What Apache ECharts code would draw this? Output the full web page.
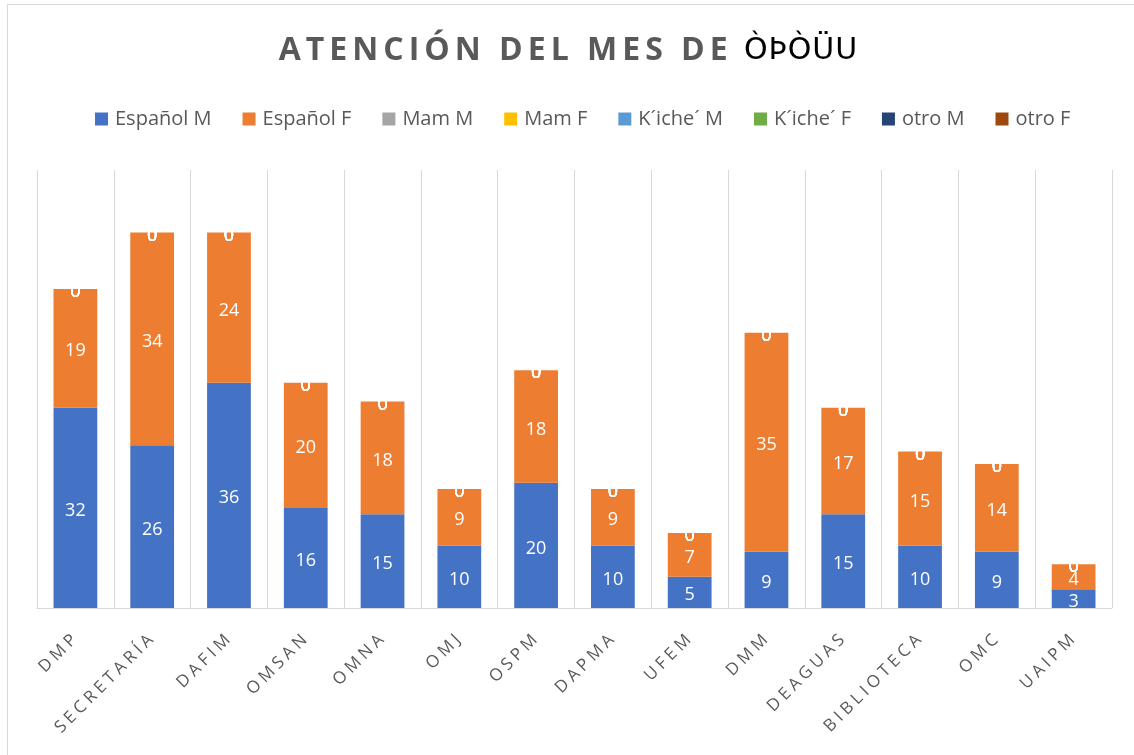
<!DOCTYPE html>
<html>
<head>
<meta charset="utf-8">
<script src="https://cdn.jsdelivr.net/npm/echarts@6/dist/echarts.min.js"></script>
<style>
html,body{margin:0;padding:0;background:#fff;}
#frame{position:absolute;left:7px;top:4px;width:1140px;height:760px;border:1px solid #d9d9d9;box-sizing:border-box;}
#chart{position:absolute;left:0;top:0;width:1134px;height:755px;}
</style>
</head>
<body>
<div id="frame"></div>
<div id="chart"></div>
<script>
const categories = ['DMP','SECRETARÍA','DAFIM','OMSAN','OMNA','OMJ','OSPM','DAPMA','UFEM','DMM','DEAGUAS','BIBLIOTECA','OMC','UAIPM'];
const seriesNames = ['Español M','Español F','Mam M','Mam F','K´iche´ M','K´iche´ F','otro M','otro F'];
const espanolM = [32,26,36,16,15,10,20,10,5,9,15,10,9,3];
const espanolF = [19,34,24,20,18,9,18,9,7,35,17,15,14,4];
const mamM    = [0,0,0,0,0,0,0,0,0,0,0,0,0,0];
const mamF    = [0,0,0,0,0,0,0,0,0,0,0,0,0,0];
const kicheM  = [0,0,0,0,0,0,0,0,0,0,0,0,0,0];
const kicheF  = [0,0,0,0,0,0,0,0,0,0,0,0,0,0];
const otroM   = [0,0,0,0,0,0,0,0,0,0,0,0,0,0];
const otroF   = [0,0,0,0,0,0,0,0,0,0,0,0,0,0];
const seriesData = [espanolM, espanolF, mamM, mamF, kicheM, kicheF, otroM, otroF];
const titleMain = 'ATENCIÓN DEL MES DE ';
const titleTail = 'ÒÞÒÜU';
const colors = ['#4472C4','#ED7D31','#A5A5A5','#FFC000','#5B9BD5','#70AD47','#264478','#9E480E'];
const FONT = '"Open Sans", "Noto Sans", sans-serif';

// letter-spaced rendering: each character as its own rich token with padding
function spaced(str, style) {
  return Array.from(str).map(c => '{' + style + '|' + c + '}').join('');
}

const chart = echarts.init(document.getElementById('chart'), null, {renderer:'canvas'});
chart.setOption({
  animation:false,
  color: colors,
  title: {
    text: spaced(titleMain, 'a') + spaced(titleTail, 'b'),
    left: 'center',
    top: 30,
    textStyle: {
      rich: {
        a: {fontFamily: FONT, fontWeight:'bold', fontSize: 32, color:'#595959', padding:[0,2.5]},
        b: {fontFamily: '"DejaVu Sans", sans-serif', fontWeight:'normal', fontSize: 30, color:'#000', padding:[0,0.5]}
      }
    }
  },
  legend: {
    top: 104,
    left: 90,
    itemWidth: 13,
    itemHeight: 13,
    itemGap: 31,
    icon: 'rect',
    textStyle: {fontFamily: FONT, fontSize: 20, color:'#595959', padding:[0,0,0,2]},
    data: seriesNames
  },
  grid: {left: 37, right: 22, top: 170, bottom: 147, containLabel:false},
  xAxis: {
    type:'category',
    data: categories,
    axisLine: {lineStyle:{color:'#d9d9d9', width:1}},
    axisTick: {show:false},
    splitLine: {show:true, lineStyle:{color:'#d9d9d9', width:1}},
    axisLabel: {
      rotate:45, interval:0, margin:28,
      formatter: v => spaced(v, 's'),
      rich: { s: {fontFamily: FONT, fontSize:17, color:'#595959', padding:[0,2]} }
    }
  },
  yAxis: {
    type:'value', min:0, max:70, show:false,
    splitLine:{show:false}
  },
  series: seriesNames.map((name, i) => ({
    name: name,
    type: 'bar',
    stack: 'total',
    barWidth: '57%',
    data: seriesData[i],
    itemStyle: {color: colors[i]},
    label: {
      show: true,
      position: 'inside',
      offset: [0, 3],
      color: '#fff',
      fontFamily: FONT,
      fontSize: 18
    }
  }))
});
</script>
</body>
</html>
